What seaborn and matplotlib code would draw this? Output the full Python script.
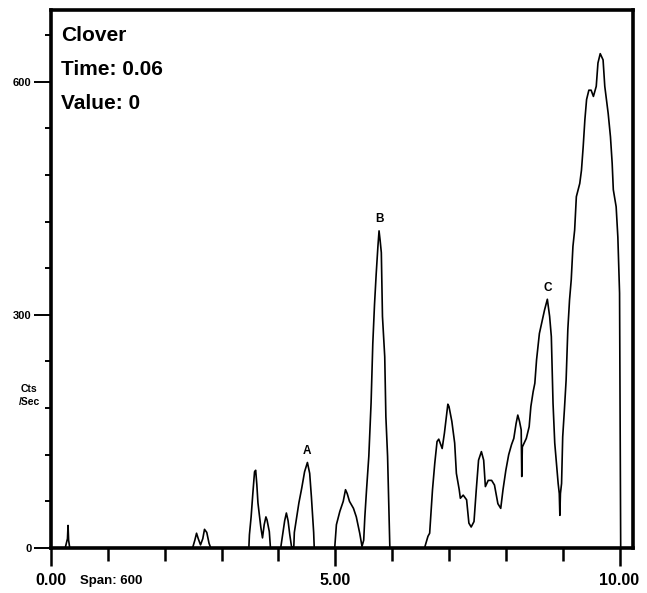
import matplotlib
matplotlib.use("Agg")
import matplotlib.pyplot as plt
import seaborn as sns
import pandas as pd

# Detector trace: retention time (min) vs counts per second
time_min = [
    0.00, 0.25, 0.27, 0.29, 0.30, 0.31, 0.33,
    2.49, 2.53, 2.56, 2.59, 2.63, 2.67, 2.70, 2.74, 2.78, 2.81,
    3.48, 3.49, 3.52, 3.55, 3.58, 3.60, 3.62, 3.64, 3.67, 3.69, 3.72, 3.75, 3.78, 3.80, 3.84, 3.86,
    4.04, 4.08, 4.11, 4.14, 4.17, 4.20, 4.23, 4.27,
    4.28, 4.32, 4.36, 4.41, 4.46, 4.51, 4.55, 4.58, 4.61, 4.62, 4.63,
    4.99, 5.02, 5.08, 5.14, 5.18, 5.21, 5.25, 5.32, 5.37, 5.43, 5.47,
    5.50, 5.52, 5.55, 5.59, 5.63, 5.66, 5.69, 5.72, 5.75, 5.77, 5.79, 5.81, 5.83, 5.87, 5.89, 5.92, 5.95, 5.96,
    6.57, 6.63, 6.66, 6.71, 6.75, 6.79, 6.82, 6.88, 6.92, 6.98, 7.00, 7.05, 7.10, 7.13, 7.18, 7.20,
    7.25, 7.31, 7.35, 7.39, 7.44, 7.48, 7.52, 7.57, 7.61, 7.64, 7.69, 7.75, 7.80, 7.86, 7.91, 7.95,
    8.00, 8.05, 8.10, 8.14, 8.18, 8.21, 8.24, 8.27, 8.28, 8.29, 8.36, 8.41, 8.44, 8.48, 8.51, 8.54,
    8.59, 8.64, 8.68, 8.73, 8.77, 8.80, 8.83, 8.86, 8.89, 8.92, 8.94, 8.95, 8.96, 8.98,
    9.00, 9.03, 9.06, 9.09, 9.12, 9.15, 9.18, 9.21, 9.24, 9.30, 9.33, 9.36, 9.39, 9.42, 9.46, 9.50,
    9.54, 9.59, 9.62, 9.66, 9.71, 9.74, 9.80, 9.84, 9.87, 9.89, 9.94, 9.97, 10.00, 10.01, 10.02,
]
counts = [
    0, 0, 6, 12, 29, 10, 0,
    0, 10, 19, 12, 4, 12, 24, 20, 6, 0,
    0, 17, 40, 70, 98, 100, 82, 58, 40, 27, 13, 30, 40, 36, 21, 0,
    0, 20, 35, 45, 35, 17, 2, 0,
    20, 39, 58, 77, 98, 110, 96, 66, 32, 20, 0,
    0, 30, 47, 60, 75, 70, 60, 51, 40, 19, 2,
    10, 40, 75, 118, 187, 263, 313, 353, 388, 408, 395, 380, 298, 246, 169, 118, 32, 0,
    0, 15, 19, 75, 109, 137, 140, 128, 148, 185, 182, 163, 135, 96, 75, 64,
    68, 62, 32, 27, 34, 75, 113, 124, 113, 79, 87, 87, 81, 57, 51, 75,
    100, 120, 133, 141, 160, 171, 163, 152, 92, 130, 141, 156, 182, 201, 212, 242,
    276, 293, 306, 320, 298, 272, 186, 135, 109, 83, 70, 42, 70, 83,
    143, 178, 216, 281, 319, 345, 388, 409, 452, 469, 486, 516, 551, 577, 589, 589,
    581, 594, 624, 636, 628, 594, 559, 529, 495, 461, 439, 400, 328, 150, 0,
]

# Labelled peaks
peak_names = ["A", "B", "C"]
peak_times = [4.51, 5.77, 8.73]
peak_counts = [110, 408, 320]

# Axis ticks: labelled (major) and unlabelled (minor)
x_major_ticks = [0, 5, 10]
x_major_labels = ["0.00", "5.00", "10.00"]
x_minor_ticks = [1, 2, 3, 4, 6, 7, 8, 9]
y_major_ticks = [0, 300, 600]
y_major_labels = ["0", "300", "600"]
y_minor_ticks = [60, 120, 180, 240, 360, 420, 480, 540, 660]

info_lines = ["Clover", "Time: 0.06", "Value: 0"]

sns.set_style("white")
fam = ["Liberation Sans", "DejaVu Sans"]
plt.rcParams["font.family"] = fam
plt.rcParams["text.color"] = "black"

df = pd.DataFrame({"time": time_min, "cps": counts})

fig = plt.figure(figsize=(6.47, 5.93), dpi=100)
ax = fig.add_axes([0.0788, 0.0759, 0.899, 0.907])

sns.lineplot(data=df, x="time", y="cps", estimator=None, sort=False,
             color="black", linewidth=1.2, ax=ax)

ax.set_xlim(0, 10.23)
ax.set_ylim(0, 692)
ax.set_xlabel("")
ax.set_ylabel("")

for side in ["left", "bottom", "top", "right"]:
    ax.spines[side].set_visible(True)
    ax.spines[side].set_color("black")
    ax.spines[side].set_linewidth(2.6)

ax.set_xticks(x_major_ticks)
ax.set_xticklabels(x_major_labels, family=fam, fontweight="bold", fontsize=11.5)
ax.set_xticks(x_minor_ticks, minor=True)
ax.set_yticks(y_major_ticks)
ax.set_yticklabels(y_major_labels, family=fam, fontweight="bold", fontsize=8)
ax.set_yticks(y_minor_ticks, minor=True)

ax.tick_params(axis="x", which="major", bottom=True, top=False, direction="out",
               length=13, width=1.8, pad=5, colors="black", labelcolor="black")
ax.tick_params(axis="x", which="minor", bottom=True, top=False, direction="out",
               length=9.5, width=1.8, colors="black")
ax.tick_params(axis="y", which="major", left=True, right=False, direction="out",
               length=12, width=1.4, pad=2, colors="black", labelcolor="black")
ax.tick_params(axis="y", which="minor", left=True, right=False, direction="out",
               length=4, width=1.4, colors="black")

# Info box text in the upper left corner
for i, line in enumerate(info_lines):
    ax.text(0.018, 0.97 - i * 0.063, line, transform=ax.transAxes, ha="left", va="top",
            fontsize=15, fontweight="bold", family=fam, color="black")

# Peak labels
for name, t, c in zip(peak_names, peak_times, peak_counts):
    ax.annotate(name, xy=(t, c), xytext=(0, 4), textcoords="offset points",
                ha="center", va="bottom", fontsize=8.5, fontweight="bold", family=fam,
                color="black")

# Axis caption and span note
fig.text(0.045, 0.333, "Cts\n/Sec", ha="center", va="center", fontsize=7.5,
         family=fam, fontweight="bold", linespacing=1.4, color="black")
fig.text(0.123, 0.021, "Span: 600", ha="left", va="center", fontsize=9.5,
         family=fam, fontweight="bold", color="black")

fig.savefig("out.png", dpi=100, facecolor="white")
